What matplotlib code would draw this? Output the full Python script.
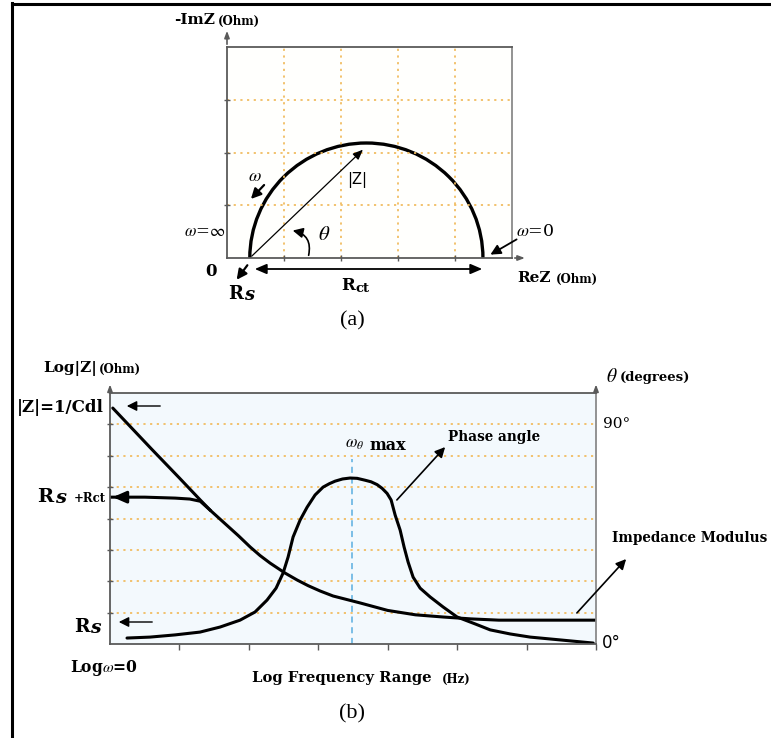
import matplotlib
matplotlib.use("Agg")
import matplotlib.pyplot as plt
from matplotlib.patches import Arc, FancyArrowPatch

plt.rcParams["font.family"] = ["DejaVu Serif"]
plt.rcParams["mathtext.fontset"] = "stix"

# ---- panel (a): Nyquist semicircle (grid units) ----
rs_a = 0.40        # start of semicircle on ReZ
rct_a = 4.09       # diameter of semicircle
peak_a = 2.18      # height of semicircle
z_tip = (2.42, 2.09)

# ---- panel (b): Bode plot (grid units) ----
mod_x = [0.04, 0.6, 1.0, 1.3, 1.45, 1.65, 1.85, 2.02, 2.161, 2.305, 2.522, 2.695, 2.853, 3.026, 3.213,
         3.6, 4.0, 4.4, 4.8, 5.2, 5.6, 7.0]
mod_y = [7.52, 6.21, 5.29, 4.59, 4.25, 3.85, 3.45, 3.09, 2.82, 2.58, 2.26, 2.04, 1.86, 1.69, 1.53,
         1.31, 1.07, 0.93, 0.86, 0.80, 0.76, 0.76]

rsrct_x = [0.0, 0.5, 0.94, 1.15, 1.30, 1.44]
rsrct_y = [4.68, 4.68, 4.65, 4.62, 4.55, 4.27]

phase_x = [0.245, 0.576, 0.937, 1.297, 1.585, 1.873, 2.089, 2.262, 2.392, 2.493, 2.565, 2.637,
           2.738, 2.839, 2.954, 3.069, 3.16, 3.242, 3.35, 3.458, 3.56, 3.674, 3.76, 3.847, 3.92,
           3.991, 4.049, 4.107, 4.179, 4.236, 4.294, 4.366, 4.467, 4.611, 4.798, 5.0, 5.259,
           5.476, 5.764, 6.052, 6.484, 6.96]
phase_y = [0.19, 0.22, 0.29, 0.38, 0.54, 0.76, 1.02, 1.40, 1.78, 2.26, 2.77, 3.41,
           3.95, 4.36, 4.75, 5.00, 5.11, 5.19, 5.26, 5.29, 5.28, 5.22, 5.17, 5.08, 4.96,
           4.80, 4.59, 4.11, 3.63, 3.09, 2.61, 2.13, 1.78, 1.50, 1.18, 0.86, 0.64,
           0.45, 0.32, 0.22, 0.13, 0.03]
theta_max_x = 3.49

W, H = 771, 738
fig = plt.figure(figsize=(W / 100, H / 100), dpi=100)

def fx(x):
    return x / W

def fy(y):
    return 1 - y / H

def ftext(x, y, s, **kw):
    kw.setdefault("va", "center")
    kw.setdefault("ha", "left")
    fig.text(fx(x), fy(y), s, **kw)

def farrow(x0, y0, x1, y1, lw=1.0, style="-|>,head_length=6,head_width=3", **kw):
    fig.add_artist(FancyArrowPatch((fx(x0), fy(y0)), (fx(x1), fy(y1)), transform=fig.transFigure,
                                   arrowstyle=style, lw=lw, color="black", mutation_scale=1, **kw))

grid_col = "#f1bd62"
spine_col = "#5a5a5a"
gls = (0, (1.2, 2.5))

# outer frame
fig.add_artist(plt.Line2D([fx(12), fx(12)], [fy(3), fy(738)], color="black", lw=2.2, transform=fig.transFigure))
fig.add_artist(plt.Line2D([fx(12), fx(771)], [fy(3.5), fy(3.5)], color="black", lw=2.2, transform=fig.transFigure))

# ================= panel (a) =================
ax1 = fig.add_axes([fx(227), fy(258), (512 - 227) / W, (258 - 47) / H])
ax1.set_xlim(0, 5)
ax1.set_ylim(0, 4)
ax1.set_facecolor("#fffffd")
ax1.set_xticks([1, 2, 3, 4])
ax1.set_yticks([1, 2, 3])
ax1.set_xticklabels([])
ax1.set_yticklabels([])
ax1.tick_params(direction="inout", length=5, color=spine_col, width=1)
ax1.grid(True, linestyle=gls, color=grid_col, lw=1.3)
for s in ax1.spines.values():
    s.set_color(spine_col)
    s.set_linewidth(1.3)
ax1.spines["right"].set_color("#8a8a8a")

ax1.add_patch(Arc((rs_a + rct_a / 2, 0), rct_a, 2 * peak_a, theta1=0, theta2=180, lw=2.4, color="black"))
ax1.annotate("", xy=z_tip, xytext=(rs_a, 0),
             arrowprops=dict(arrowstyle="-|>,head_length=0.6,head_width=0.25", lw=0.9, color="black"))
ax1.annotate("", xy=(0, 1.09), xytext=(0, 1), xycoords="axes fraction",
             arrowprops=dict(arrowstyle="-|>,head_length=0.4,head_width=0.15", lw=1.2, color=spine_col))
ax1.annotate("", xy=(1.055, 0), xytext=(1, 0), xycoords="axes fraction",
             arrowprops=dict(arrowstyle="-|>,head_length=0.4,head_width=0.15", lw=1.2, color=spine_col))

# labels for (a)
ftext(215, 20, "-ImZ", ha="right", fontsize=11, fontweight="bold")
ftext(218, 21, "(Ohm)", fontsize=8.5, fontweight="bold")
ftext(517, 278, "ReZ", fontsize=11, fontweight="bold")
ftext(556, 279, "(Ohm)", fontsize=8.5, fontweight="bold")
ftext(357, 180, "|Z|", ha="center", fontsize=10.5, family="DejaVu Sans")
ftext(255, 176, r"$\omega$", ha="center", fontsize=13)
farrow(266, 183, 249, 201, lw=1.6)
ftext(184, 232, r"$\omega$=$\infty$", fontsize=12)
ftext(516, 232, r"$\omega$=0", fontsize=12.5)
farrow(519, 238, 488, 256, lw=1.3)
ftext(318, 234, r"$\theta$", fontsize=15)
farrow(308, 258, 290, 230, lw=1.2, connectionstyle="arc3,rad=0.55")
ftext(211, 271, "0", ha="center", fontsize=12, fontweight="bold")
farrow(249, 263, 235, 282, lw=1.6)
ftext(228, 294, "R", fontsize=13, fontweight="bold")
ftext(244, 295, "s", fontsize=13, fontweight="bold", style="italic")
farrow(252, 269, 485, 269, lw=1.3, style="<|-|>,head_length=7,head_width=3")
ftext(341, 286, "R", fontsize=12, fontweight="bold")
ftext(355, 288, "ct", fontsize=9.5, fontweight="bold")
ftext(352, 321, "(a)", ha="center", fontsize=16, family="Liberation Serif")

# ================= panel (b) =================
ax2 = fig.add_axes([fx(110), fy(644), (596 - 110) / W, (644 - 393) / H])
ax2.set_xlim(0, 7)
ax2.set_ylim(0, 8)
ax2.set_facecolor("#f3f9fd")
ax2.set_xticks(range(1, 8))
ax2.set_yticks(range(1, 8))
ax2.set_xticklabels([])
ax2.set_yticklabels([])
ax2.tick_params(axis="y", direction="inout", length=5, color=spine_col, width=1)
ax2.tick_params(axis="x", direction="out", length=4, color=spine_col, width=1)
ax2.grid(True, axis="y", linestyle=gls, color=grid_col, lw=1.3)
for s in ax2.spines.values():
    s.set_color(spine_col)
    s.set_linewidth(1.3)
ax2.spines["right"].set_color("#8a8a8a")

ax2.plot([theta_max_x, theta_max_x], [0, 5.9], color="#5aaee0", lw=1.1, ls=(0, (4, 3)))
ax2.plot(mod_x, mod_y, color="black", lw=2.2, solid_capstyle="round", solid_joinstyle="round")
ax2.plot(rsrct_x, rsrct_y, color="black", lw=2.2, solid_joinstyle="round")
ax2.plot(phase_x, phase_y, color="black", lw=2.2, solid_capstyle="round", solid_joinstyle="round")
ax2.annotate("", xy=(0.0, rsrct_y[0]), xytext=(0.3, rsrct_y[0]),
             arrowprops=dict(arrowstyle="-|>,head_length=0.8,head_width=0.35", lw=2.2, color="black"))
for xa in (0, 1):
    ax2.annotate("", xy=(xa, 1.045), xytext=(xa, 1), xycoords="axes fraction",
                 arrowprops=dict(arrowstyle="-|>,head_length=0.4,head_width=0.15", lw=1.2, color=spine_col))

# labels for (b)
ftext(97, 368, "Log|Z|", ha="right", fontsize=11, fontweight="bold")
ftext(99, 369, "(Ohm)", fontsize=8.5, fontweight="bold")
ftext(104, 408, "|Z|=1/Cdl", ha="right", fontsize=12, fontweight="bold")
farrow(163, 406, 124, 406, lw=1.0)
ftext(37, 497, "R", fontsize=14, fontweight="bold")
ftext(55, 498, "s", fontsize=14, fontweight="bold", style="italic")
ftext(74, 499, "+Rct", fontsize=8.5, fontweight="bold")
ftext(74, 627, "R", fontsize=13.5, fontweight="bold")
ftext(90, 628, "s", fontsize=13.5, fontweight="bold", style="italic")
farrow(155, 622, 116, 622, lw=1.0)
ftext(70, 668, r"Log$\omega$=0", fontsize=11.2, fontweight="bold")
ftext(252, 678, "Log Frequency Range", fontsize=10.6, fontweight="bold")
ftext(442, 679, "(Hz)", fontsize=8.5, fontweight="bold")
ftext(352, 714, "(b)", ha="center", fontsize=16, family="Liberation Serif")
ftext(345, 443, r"$\omega_{\theta}$", fontsize=12)
ftext(369, 445, "max", fontsize=11.5, fontweight="bold")
ftext(448, 437, "Phase angle", fontsize=9.8, fontweight="bold")
farrow(395, 502, 447, 445, lw=1.2)
ftext(606, 377, r"$\theta$", fontsize=14)
ftext(620, 378, "(degrees)", fontsize=9.5, fontweight="bold")
ftext(603, 424, "90°", fontsize=11)
ftext(602, 643, "0°", fontsize=12, family="DejaVu Sans")
ftext(612, 538, "Impedance Modulus", fontsize=9.8, fontweight="bold")
farrow(575, 615, 628, 557, lw=1.2)

fig.savefig("out.png", dpi=100)
